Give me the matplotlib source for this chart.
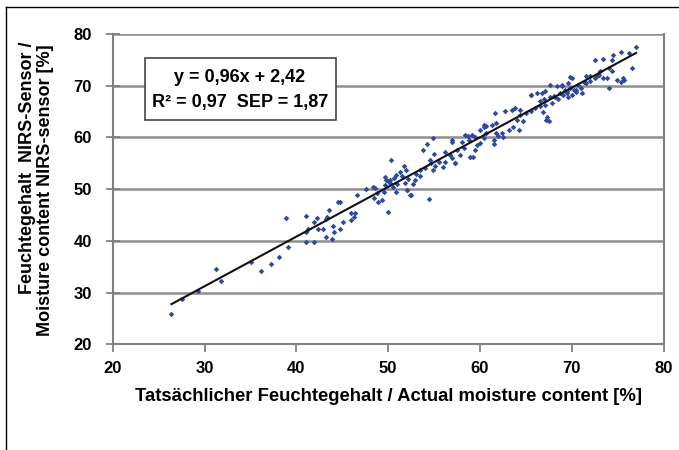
import matplotlib
matplotlib.use("Agg")
import matplotlib.pyplot as plt
from matplotlib.patches import Rectangle
from matplotlib.lines import Line2D
import numpy as np

# actual moisture content [%] vs NIRS sensor moisture content [%]
actual = [26.4, 27.5, 29.3, 31.3, 31.8, 35.1, 36.2, 37.2, 38.1, 38.9, 39.1,
          41.1, 41.9, 42.2, 41.3, 41.1, 41.1, 41.9, 43.2, 43.3, 43.6, 44.5,
          44.8, 42.9, 42.4, 43.2, 43.9, 44.1, 44.8, 45.1, 45.9, 46.0, 46.4,
          46.3, 46.6, 47.6, 48.3, 48.6, 48.8, 48.9, 48.4, 49.3, 50.0, 49.6,
          49.8, 50.0, 50.2, 50.6, 49.7, 44.0, 50.3, 50.5, 51.0, 50.8, 51.5,
          52.2, 53.0, 53.5, 52.7, 49.5, 50.9, 51.8, 52.1, 52.5,
          54.9, 54.2, 53.8, 51.7, 51.9, 51.3, 50.2, 52.0, 52.4, 54.4, 52.9,
          53.5, 54.0, 54.5, 54.7, 54.9, 55.1, 56.2, 56.9, 56.7, 57.3, 57.8,
          58.0, 58.4, 58.7, 59.1, 58.9, 59.5, 59.7, 60.0, 60.4, 60.7,
          57.0, 57.3, 59.2, 61.7, 61.5, 62.5, 61.7, 57.5, 58.2, 58.8, 59.5,
          60.0, 57.0, 56.2, 55.5, 55.0, 56.0,
          61.6, 62.7, 63.5, 63.8, 64.4, 64.0, 64.7, 65.6, 66.2, 66.7, 67.1,
          67.6, 68.4, 68.9, 69.8, 69.6, 70.2, 66.5, 66.9, 67.3, 67.5, 67.1,
          67.8, 67.6, 68.2, 68.7, 69.3, 60.7, 60.4, 61.3, 61.5, 62.0, 62.4,
          63.1, 63.6, 64.2, 60.4, 64.3, 67.2, 65.5,
          65.0, 65.5, 66.0, 66.5, 67.0, 68.0, 68.5, 69.0, 69.5, 70.0, 70.5,
          71.0, 71.5, 72.0, 72.5, 73.0,
          77.0, 76.2, 75.4, 74.5, 74.4, 73.4, 72.5, 76.5, 75.6, 74.9, 75.4,
          74.0, 73.8, 73.4, 74.4, 74.0, 73.1, 72.7, 72.0, 71.5, 71.3, 70.7,
          70.0, 69.8, 70.4, 69.5, 71.1, 69.6, 68.9, 75.7]
nirs = [25.9, 28.8, 30.4, 34.6, 32.3, 36.0, 34.1, 35.5, 36.8, 44.4, 38.9,
        44.9, 43.6, 44.4, 42.3, 41.7, 39.7, 39.7, 44.2, 44.7, 46.0, 47.5,
        47.5, 42.3, 42.3, 40.7, 40.3, 41.8, 42.3, 43.7, 44.0, 45.4, 45.4,
        44.7, 48.9, 50.0, 50.5, 50.2, 49.2, 47.6, 48.3, 47.9, 45.5, 52.4,
        51.8, 51.5, 51.2, 52.1, 50.8, 42.9, 55.7, 50.5, 51.0, 49.5, 52.5,
        52.0, 53.0, 52.5, 51.0, 49.5, 52.8, 51.2, 49.8, 48.8,
        59.9, 58.7, 57.5, 54.4, 53.7, 53.4, 51.8, 49.9, 48.9, 48.1, 51.8,
        53.7, 54.1, 55.7, 55.0, 53.7, 54.4, 55.3, 59.2, 56.6, 55.0, 56.6,
        59.2, 60.5, 60.2, 60.5, 56.3, 57.6, 58.6, 61.5, 62.4, 62.3,
        59.5, 55.0, 56.3, 60.8, 58.8, 60.1, 62.7, 57.5, 58.0, 59.5, 60.0,
        59.0, 56.0, 57.2, 55.2, 56.8, 54.2,
        64.7, 65.2, 65.3, 65.7, 64.4, 63.4, 63.1, 68.2, 68.6, 68.6, 68.9,
        70.2, 70.0, 69.9, 71.7, 70.5, 69.2, 66.0, 65.0, 64.0, 63.1, 66.3,
        66.6, 67.9, 67.9, 68.6, 69.2, 60.8, 62.1, 62.4, 59.5, 60.2, 60.8,
        61.5, 62.1, 61.5, 59.9, 65.3, 63.4, 68.2,
        64.8, 65.2, 65.7, 67.0, 67.5, 68.0, 67.5, 68.2, 69.0, 68.2, 68.8,
        69.5, 70.5, 71.0, 71.5, 72.0,
        77.4, 76.3, 76.6, 76.0, 75.0, 75.2, 74.9, 73.4, 71.5, 71.2, 70.8,
        69.5, 71.5, 71.5, 72.8, 73.4, 72.8, 71.8, 71.8, 71.8, 70.8, 70.2,
        71.5, 69.5, 69.2, 68.6, 68.6, 67.9, 70.2, 71.1]

slope = 0.96
intercept = 2.42
eq_text = "y = 0,96x + 2,42"
stats_text = "R\u00b2 = 0,97  SEP = 1,87"

plt.rcParams['font.family'] = ['Liberation Sans', 'DejaVu Sans']
plt.rcParams['font.weight'] = 'bold'

fig = plt.figure(figsize=(6.79, 4.5), dpi=100)
fig.patch.set_facecolor('white')
W, H = 679.0, 450.0

ax = fig.add_axes([112.7 / W, 1 - 344.3 / H, (663.7 - 112.7) / W, (344.3 - 34) / H])
ax.set_xlim(20, 80)
ax.set_ylim(20, 80)
ax.set_xticks(range(20, 81, 10))
ax.set_yticks(range(20, 81, 10))

ax.yaxis.grid(True, color='#8f8f8f', linewidth=1.8)
ax.set_axisbelow(True)
for side in ['left', 'bottom', 'right', 'top']:
    ax.spines[side].set_color('#808080')
    ax.spines[side].set_linewidth(1.5)
ax.spines['top'].set_visible(False)

ax.tick_params(axis='x', direction='out', length=6, width=1.3, color='#808080',
               labelsize=12, pad=6)
ax.tick_params(axis='y', direction='inout', length=10, width=1.3, color='#808080',
               labelsize=12, pad=10)
for lbl in ax.get_xticklabels() + ax.get_yticklabels():
    lbl.set_fontweight('bold')

ax.scatter(actual, nirs, marker='D', s=8, color='#2e4a9c', linewidths=0, zorder=3)

xs = np.array([min(actual), max(actual)])
ax.plot(xs, slope * xs + intercept, color='#111111', linewidth=1.5, zorder=4)

ax.set_xlabel("Tats\u00e4chlicher Feuchtegehalt / Actual moisture content [%]",
              fontsize=13.3, fontweight='bold', labelpad=9)

# two-line y label
fig.text(28 / W, 1 - 168 / H, "Feuchtegehalt  NIRS-Sensor /", rotation=90,
         ha='center', va='center', fontsize=13, fontweight='bold')
fig.text(46 / W, 1 - 190 / H, "Moisture content NIRS-sensor [%]", rotation=90,
         ha='center', va='center', fontsize=13, fontweight='bold')

# equation box
fig.patches.append(Rectangle((145 / W, 1 - 120 / H), (336 - 145) / W, (120 - 58) / H,
                             transform=fig.transFigure, facecolor='white',
                             edgecolor='#444444', linewidth=1.2, zorder=5))
fig.text(240 / W, 1 - 77 / H, eq_text, ha='center', va='center', fontsize=13,
         fontweight='bold', zorder=6)
fig.text(240 / W, 1 - 103 / H, stats_text, ha='center', va='center', fontsize=13,
         fontweight='bold', zorder=6)

# outer frame
fig.add_artist(Line2D([6 / W, 6 / W], [0, 1 - 7 / H], transform=fig.transFigure,
                      color='black', linewidth=1))
fig.add_artist(Line2D([6 / W, 1], [1 - 7 / H, 1 - 7 / H], transform=fig.transFigure,
                      color='black', linewidth=1))

fig.savefig("out.png", dpi=100)
